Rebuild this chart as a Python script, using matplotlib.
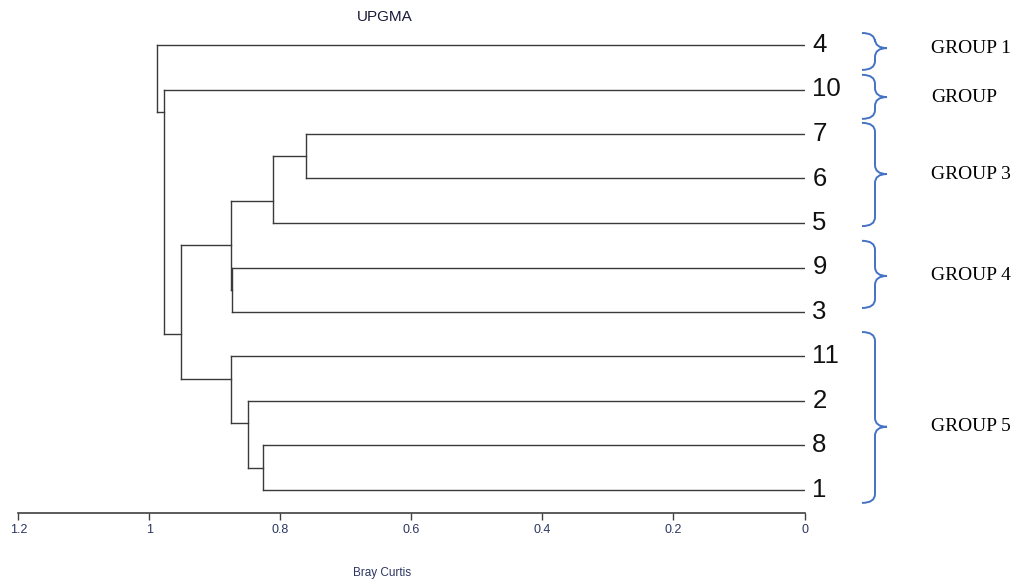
import matplotlib
matplotlib.use('Agg')
import matplotlib.pyplot as plt
from matplotlib.path import Path
from matplotlib.patches import PathPatch

# leaf order from top to bottom
leaves = ['4', '10', '7', '6', '5', '9', '3', '11', '2', '8', '1']

# UPGMA merges: (child a, child b, Bray Curtis height)
merge_names = ['N1', 'N2', 'N3', 'N4', 'N5', 'N6', 'N7', 'N8', 'N9', 'N10']
merge_a = ['7', 'N1', '9', 'N2', '8', '2', '11', 'N4', '10', '4']
merge_b = ['6', '5', '3', 'N3', '1', 'N5', 'N6', 'N7', 'N8', 'N9']
merge_h = [0.761, 0.811, 0.874, 0.876, 0.827, 0.849, 0.875, 0.952, 0.978, 0.988]

ticks = [1.2, 1, 0.8, 0.6, 0.4, 0.2, 0]
tick_labels = ['1.2', '1', '0.8', '0.6', '0.4', '0.2', '0']

# group brackets on the right (label, top, tip, bottom in leaf rows)
group_labels = ['GROUP 1', 'GROUP', 'GROUP 3', 'GROUP 4', 'GROUP 5']
group_top = [-0.27, 0.67, 1.75, 4.40, 6.45]
group_tip = [0.07, 1.17, 2.90, 5.19, 8.58]
group_bot = [0.56, 1.66, 4.07, 5.91, 10.29]

W, H = 1028, 586
fig = plt.figure(figsize=(W / 100, H / 100), dpi=100)

ax_l, ax_r = 18.3, 804.5
ax_top, ax_bot = 30, 513
ax = fig.add_axes([ax_l / W, 1 - ax_bot / H, (ax_r - ax_l) / W, (ax_bot - ax_top) / H])
ax.set_xlim(1.2, 0)
ax.set_ylim(10 + (ax_bot - 490) / 44.5, (ax_top - 45) / 44.5)

line_col = '#3a3a3a'

# node positions
pos = {}
span = {}
for i, name in enumerate(leaves):
    pos[name] = (0.0, i)
    span[name] = (i, i)

for name, a, b, h in zip(merge_names, merge_a, merge_b, merge_h):
    xa, ya = pos[a]
    xb, yb = pos[b]
    ax.plot([xa, h], [ya, ya], color=line_col, lw=1.0)
    ax.plot([xb, h], [yb, yb], color=line_col, lw=1.0)
    ax.plot([h, h], [ya, yb], color=line_col, lw=1.0)
    y_node = (span[a][1] + span[b][0]) / 2
    pos[name] = (h, y_node)
    span[name] = (span[a][0], span[b][1])

for i, name in enumerate(leaves):
    ax.text(-0.012, i, name, fontsize=18.5, family='Liberation Sans',
            va='center', ha='left', color='#111111', clip_on=False)

for s in ['top', 'left', 'right']:
    ax.spines[s].set_visible(False)
ax.spines['bottom'].set_color('#404040')
ax.spines['bottom'].set_linewidth(1.2)
ax.set_yticks([])
ax.set_xticks(ticks)
ax.set_xticklabels(tick_labels, family='Liberation Sans', fontsize=9, color='#2b3560')
ax.tick_params(axis='x', direction='out', length=5, width=1, color='#404040', pad=3)

fig.text(385 / W, 1 - 17 / H, 'UPGMA', ha='center', va='center', fontsize=11,
         family='Liberation Sans', color='#1a1a3a')
fig.text(382 / W, 1 - 573 / H, 'Bray Curtis', ha='center', va='center', fontsize=8.5,
         family='Liberation Sans', color='#2b3560')

# brackets axes (x in pixels, y in leaf rows)
bx = fig.add_axes([ax_r / W, 1 - ax_bot / H, (W - ax_r) / W, (ax_bot - ax_top) / H])
bx.set_xlim(ax_r, W)
bx.set_ylim(ax.get_ylim())
bx.axis('off')

r = 9 / 44.5
x0, xv, xt = 862, 875, 887
for lab, y0, ym, y1 in zip(group_labels, group_top, group_tip, group_bot):
    verts = [(x0, y0), (xv, y0), (xv, y0 + r), (xv, ym - r), (xv, ym), (xt, ym),
             (xv, ym), (xv, ym + r), (xv, y1 - r), (xv, y1), (x0, y1)]
    codes = [Path.MOVETO, Path.CURVE3, Path.CURVE3, Path.LINETO, Path.CURVE3, Path.CURVE3,
             Path.CURVE3, Path.CURVE3, Path.LINETO, Path.CURVE3, Path.CURVE3]
    bx.add_patch(PathPatch(Path(verts, codes), fill=False, edgecolor='#4472c4', lw=1.4,
                           clip_on=False))
    bx.text(931, ym, lab, fontsize=14, family='Liberation Serif', va='center', ha='left',
            color='black', clip_on=False)

fig.savefig('out.png', dpi=100, facecolor='white')
